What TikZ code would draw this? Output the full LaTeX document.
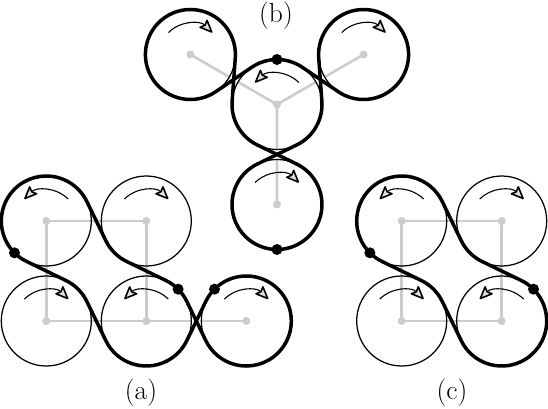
\documentclass[tikz,border=0pt]{standalone}
\usetikzlibrary{arrows.meta,calc}
\tikzset{
  wheel/.style={line width=1.25pt,black},
  spoke/.style={line width=2.6pt,black!20},
  hub/.style={fill=black!20},
  belt/.style={line width=3.5pt,black,line join=round},
  beltdot/.style={fill=black},
  spin/.style={line width=1.1pt,-{Stealth[open,fill=black!12,length=15pt,width=12.5pt,inset=2.5pt,line width=1.6pt,round]}},
  caption/.style={inner sep=0pt,font=\fontsize{27.5}{27.5}\selectfont}
}
\newcommand{\Arc}[3]{([shift={(#2:45)}]#1) arc[start angle=#2,end angle=#3,radius=45]}
\newcommand{\Cw}[1]{\draw[spin] ([shift={(135:31)}]#1) arc[start angle=135,end angle=45,radius=31];}
\newcommand{\Ccw}[1]{\draw[spin] ([shift={(45:31)}]#1) arc[start angle=45,end angle=135,radius=31];}
\newcommand{\Wheel}[1]{\fill[hub] (#1) circle[radius=4]; \draw[wheel] (#1) circle[radius=45];}
\newcommand{\Gap}[2]{\fill[white] ($(#1)!0.5!(#2)$) circle[radius=5];}
\begin{document}
\begin{tikzpicture}[x=1pt,y=1pt]
\useasboundingbox (0,0) rectangle (548,408);
% centres
\coordinate (A) at (46.3,187);
\coordinate (B) at (146.3,187);
\coordinate (C) at (46.3,87);
\coordinate (D) at (146.3,87);
\coordinate (E) at (246.3,87);
\coordinate (A2) at (401.7,187);
\coordinate (B2) at (501.7,187);
\coordinate (C2) at (401.7,87);
\coordinate (D2) at (501.7,87);
\coordinate (M) at (277,303.5);
\coordinate (S) at (277,203.5);
\coordinate (P) at (190.4,353.5);
\coordinate (Q) at (363.6,353.5);
% spokes
\draw[spoke] (A) -- (B) -- (D) (A) -- (C) -- (D) -- (E);
\draw[spoke] (A2) -- (B2) -- (D2) -- (C2) -- (A2);
\draw[spoke] (P) -- (M) (Q) -- (M) (S) -- (M);
\Gap{D}{E}\Gap{M}{S}\Gap{M}{P}\Gap{M}{Q}
% wheels
\Wheel{A}\Wheel{B}\Wheel{C}\Wheel{D}\Wheel{E}
\Wheel{A2}\Wheel{B2}\Wheel{C2}\Wheel{D2}
\Wheel{M}\Wheel{S}\Wheel{P}\Wheel{Q}
% rotation arrows
\Ccw{A}\Cw{B}\Cw{C}\Ccw{D}\Cw{E}
\Ccw{A2}\Cw{B2}\Cw{C2}\Ccw{D2}
\Ccw{M}\Cw{S}\Cw{P}\Cw{Q}
% belts (a)
\draw[belt] \Arc{A}{225}{25.84} -- \Arc{B}{205.84}{244.16} -- \Arc{D}{64.16}{45};
\draw[belt] \Arc{A}{225}{244.16} -- \Arc{C}{64.16}{25.84} -- \Arc{D}{205.84}{334.16} -- \Arc{E}{154.16}{135};
\draw[belt] \Arc{E}{135}{-154.16} -- \Arc{D}{25.84}{45};
% belts (c)
\draw[belt] \Arc{A2}{225}{25.84} -- \Arc{B2}{205.84}{244.16} -- \Arc{D2}{64.16}{45};
\draw[belt] \Arc{A2}{225}{244.16} -- \Arc{C2}{64.16}{25.84} -- \Arc{D2}{205.84}{405};
% belts (b)
\draw[belt] \Arc{M}{90}{124.16} -- \Arc{P}{304.16}{-4.16} -- \Arc{M}{175.84}{244.16} -- \Arc{S}{64.16}{-90};
\draw[belt] \Arc{S}{-90}{-244.16} -- \Arc{M}{295.84}{364.16} -- \Arc{Q}{184.16}{-124.16} -- \Arc{M}{55.84}{90};
% dots
\fill[beltdot] ([shift={(225:45)}]A) circle[radius=5.5];
\fill[beltdot] ([shift={(45:45)}]D) circle[radius=5.5];
\fill[beltdot] ([shift={(135:45)}]E) circle[radius=5.5];
\fill[beltdot] ([shift={(225:45)}]A2) circle[radius=5.5];
\fill[beltdot] ([shift={(45:45)}]D2) circle[radius=5.5];
\fill[beltdot] ([shift={(90:45)}]M) circle[radius=5.5];
\fill[beltdot] ([shift={(-90:45)}]S) circle[radius=5.5];
% captions
\node[caption] (capa) at (141,15) {(a)};
\node[caption] (capb) at (276,392) {(b)};
\node[caption] (capc) at (452,15) {(c)};
\end{tikzpicture}
\end{document}
